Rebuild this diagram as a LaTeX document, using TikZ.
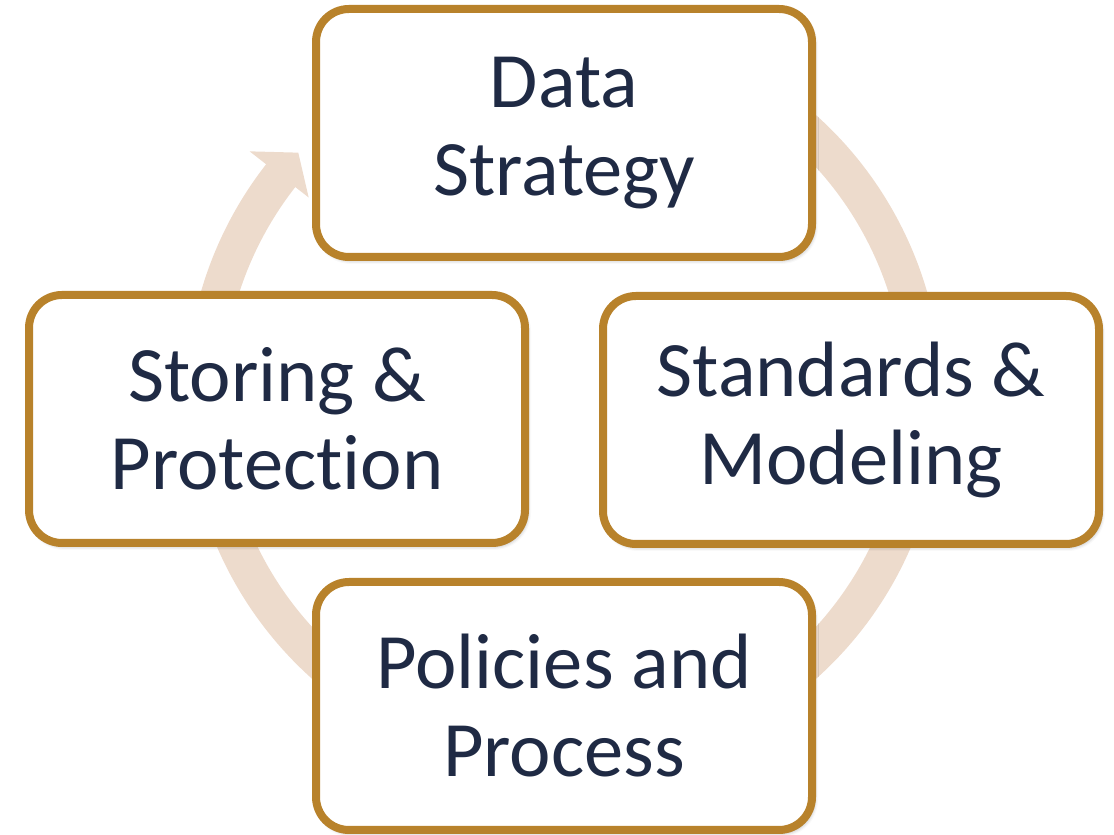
\documentclass[tikz,border=0pt]{standalone}
\usepackage{fontspec}
\setmainfont{Carlito}[Ligatures=NoCommon]
\usetikzlibrary{shadows.blur}
\definecolor{ringgold}{RGB}{184,130,43}
\definecolor{ringpeach}{RGB}{237,219,204}
\definecolor{labelnavy}{RGB}{31,42,68}
\begin{document}
\begin{tikzpicture}[x=1pt,y=1pt,
    stage/.style={draw=ringgold, line width=8pt, fill=white, rounded corners=33pt,
      minimum width=496pt, minimum height=248pt, inner sep=0pt, align=center,
      text=labelnavy, font=\fontsize{78.5}{88}\selectfont,
      blur shadow={shadow xshift=2pt, shadow yshift=-3pt, shadow blur radius=4pt, shadow opacity=35}}]
  \useasboundingbox (0,0) rectangle (1114,835);
  \coordinate (c) at (564,438);
  \begin{scope}[shift={(c)}]
    \fill[ringpeach] (70:378) arc[start angle=70, end angle=-218, radius=378]
      -- (-218:399) -- (-222.6:361) -- (-218:324) -- (-218:341)
      arc[start angle=-218, end angle=70, radius=341] -- cycle;
  \end{scope}
  \draw
    (564,702) node[stage] (0){Data\\Strategy}
    (851,415) node[stage] (1){Standards \&\\Modeling}
    (564,129) node[stage] (2){Policies and\\Process}
    (277,416) node[stage] (3){Storing \&\\Protection};
\end{tikzpicture}
\end{document}
